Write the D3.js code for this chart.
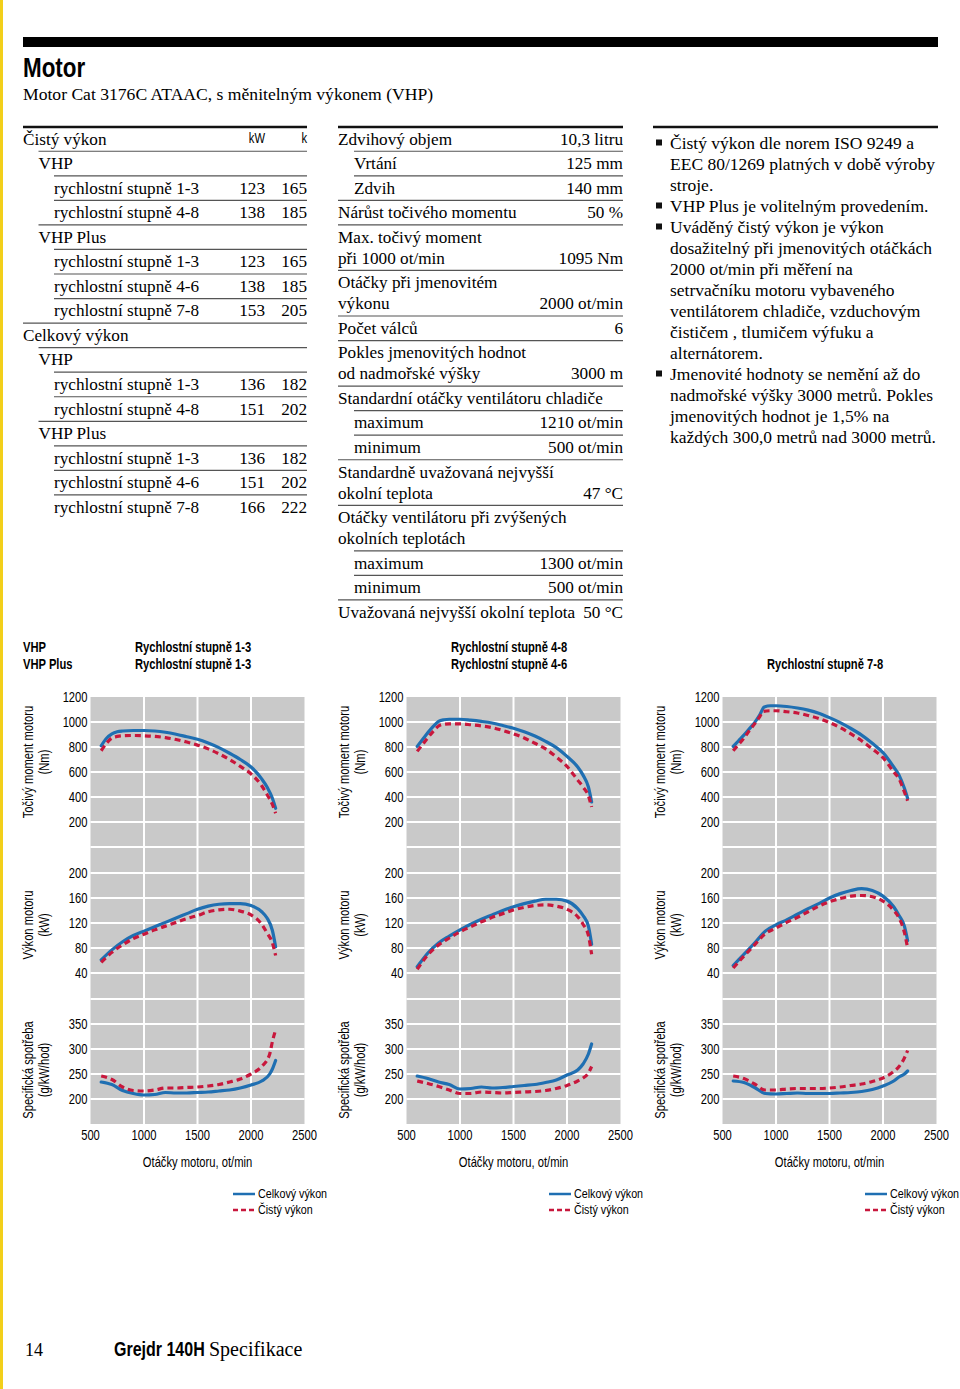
<!DOCTYPE html>
<html>
<head>
<meta charset="utf-8">
<script src="https://cdn.jsdelivr.net/npm/d3@7"></script>
<style>
  html, body { margin: 0; padding: 0; background: #fff; }
  svg { display: block; }
</style>
</head>
<body>
<svg id="page" width="960" height="1389"></svg>
<script>
// --- data ---
const rpmTicks = [500, 1000, 1500, 2000, 2500];
const torqueTicks = [200, 400, 600, 800, 1000, 1200];
const powerTicks = [40, 80, 120, 160, 200];
const fuelTicks = [200, 250, 300, 350];

// sloupec 1: čistý / celkový výkon
const powerRows = [
  { label: "Čistý výkon", level: 0, kw: "", hp: "" },
  { label: "VHP", level: 1, kw: "", hp: "" },
  { label: "rychlostní stupně 1-3", level: 2, kw: "123", hp: "165" },
  { label: "rychlostní stupně 4-8", level: 2, kw: "138", hp: "185" },
  { label: "VHP Plus", level: 1, kw: "", hp: "" },
  { label: "rychlostní stupně 1-3", level: 2, kw: "123", hp: "165" },
  { label: "rychlostní stupně 4-6", level: 2, kw: "138", hp: "185" },
  { label: "rychlostní stupně 7-8", level: 2, kw: "153", hp: "205" },
  { label: "Celkový výkon", level: 0, kw: "", hp: "" },
  { label: "VHP", level: 1, kw: "", hp: "" },
  { label: "rychlostní stupně 1-3", level: 2, kw: "136", hp: "182" },
  { label: "rychlostní stupně 4-8", level: 2, kw: "151", hp: "202" },
  { label: "VHP Plus", level: 1, kw: "", hp: "" },
  { label: "rychlostní stupně 1-3", level: 2, kw: "136", hp: "182" },
  { label: "rychlostní stupně 4-6", level: 2, kw: "151", hp: "202" },
  { label: "rychlostní stupně 7-8", level: 2, kw: "166", hp: "222" }
];

// sloupec 2: parametry motoru
const specRows = [
  { lines: ["Zdvihový objem"], level: 0, value: "10,3 litru" },
  { lines: ["Vrtání"], level: 1, value: "125 mm" },
  { lines: ["Zdvih"], level: 1, value: "140 mm" },
  { lines: ["Nárůst točivého momentu"], level: 0, value: "50 %" },
  { lines: ["Max. točivý moment", "při 1000 ot/min"], level: 0, value: "1095 Nm" },
  { lines: ["Otáčky při jmenovitém", "výkonu"], level: 0, value: "2000 ot/min" },
  { lines: ["Počet válců"], level: 0, value: "6" },
  { lines: ["Pokles jmenovitých hodnot", "od nadmořské výšky"], level: 0, value: "3000 m" },
  { lines: ["Standardní otáčky ventilátoru chladiče"], level: 0, value: "" },
  { lines: ["maximum"], level: 1, value: "1210 ot/min" },
  { lines: ["minimum"], level: 1, value: "500 ot/min" },
  { lines: ["Standardně uvažovaná nejvyšší", "okolní teplota"], level: 0, value: "47 °C" },
  { lines: ["Otáčky ventilátoru při zvýšených", "okolních teplotách"], level: 0, value: "" },
  { lines: ["maximum"], level: 1, value: "1300 ot/min" },
  { lines: ["minimum"], level: 1, value: "500 ot/min" },
  { lines: ["Uvažovaná nejvyšší okolní teplota"], level: 0, value: "50 °C" }
];

// sloupec 3: poznámky
const notes = [
  ["Čistý výkon dle norem ISO 9249 a", "EEC 80/1269 platných v době výroby", "stroje."],
  ["VHP Plus je volitelným provedením."],
  ["Uváděný čistý výkon je výkon", "dosažitelný při jmenovitých otáčkách", "2000 ot/min při měření na",
   "setrvačníku motoru vybaveného", "ventilátorem chladiče, vzduchovým", "čističem , tlumičem výfuku a",
   "alternátorem."],
  ["Jmenovité hodnoty se nemění až do", "nadmořské výšky 3000 metrů. Pokles",
   "jmenovitých hodnot je 1,5% na", "každých 300,0 metrů nad 3000 metrů."]
];

// graf 1: VHP / VHP Plus stupně 1-3
const torqueTotal1 = [[600,810],[650,870],[700,905],[750,922],[800,928],[900,932],[1000,932],[1100,928],[1200,918],[1300,902],[1400,882],[1500,862],[1600,832],[1700,795],[1800,750],[1900,700],[2000,640],[2100,545],[2150,480],[2200,390],[2230,310]];
const torqueNet1 = [[600,770],[650,830],[700,872],[750,885],[800,890],[900,892],[1000,890],[1100,885],[1200,875],[1300,860],[1400,840],[1500,815],[1600,785],[1700,745],[1800,700],[1900,645],[2000,585],[2100,490],[2150,420],[2200,340],[2230,270]];
const powerTotal1 = [[600,61],[700,77],[800,90],[900,100],[1000,107],[1100,114],[1200,121],[1300,128],[1400,135],[1500,142],[1600,147],[1700,150],[1800,151],[1900,151],[2000,148],[2100,138],[2150,128],[2200,108],[2230,82]];
const powerNet1 = [[600,57],[700,73],[800,85],[900,95],[1000,102],[1100,109],[1200,115],[1300,121],[1400,127],[1500,132],[1600,138],[1700,141],[1800,142],[1900,139],[2000,133],[2100,118],[2150,104],[2200,88],[2230,68]];
const fuelTotal1 = [[600,234],[700,229],[800,217],[900,211],[1000,208],[1100,209],[1200,213],[1300,212],[1400,212],[1500,213],[1600,214],[1700,216],[1800,218],[1900,222],[2000,228],[2100,236],[2175,250],[2200,260],[2230,277]];
const fuelNet1 = [[600,246],[700,239],[800,224],[900,217],[1000,216],[1100,218],[1200,222],[1300,222],[1400,223],[1500,224],[1600,226],[1700,229],[1800,234],[1900,240],[2000,250],[2100,265],[2175,290],[2200,315],[2230,338]];

// graf 2: VHP 4-8 / VHP Plus 4-6
const torqueTotal2 = [[600,805],[650,860],[700,915],[750,965],[800,1005],[850,1018],[900,1022],[1000,1022],[1100,1015],[1200,1005],[1300,992],[1400,972],[1500,950],[1600,922],[1700,888],[1800,845],[1900,795],[2000,725],[2100,640],[2150,575],[2200,480],[2230,360]];
const torqueNet2 = [[600,765],[650,820],[700,875],[750,925],[800,968],[850,982],[900,985],[1000,985],[1100,978],[1200,968],[1300,955],[1400,932],[1500,905],[1600,872],[1700,830],[1800,785],[1900,720],[2000,645],[2100,535],[2150,480],[2200,410],[2230,320]];
const powerTotal2 = [[600,50],[700,72],[800,88],[900,99],[1000,109],[1100,118],[1200,126],[1300,133],[1400,140],[1500,146],[1600,151],[1700,155],[1800,158],[1900,158],[2000,155],[2100,143],[2150,132],[2200,115],[2230,86]];
const powerNet2 = [[600,46],[700,69],[800,85],[900,96],[1000,106],[1100,114],[1200,122],[1300,129],[1400,135],[1500,141],[1600,145],[1700,148],[1800,149],[1900,147],[2000,142],[2100,130],[2150,118],[2200,100],[2230,70]];
const fuelTotal2 = [[600,246],[700,241],[800,234],[900,229],[1000,220],[1100,221],[1200,224],[1300,222],[1400,223],[1500,225],[1600,227],[1700,229],[1800,233],[1900,238],[2000,248],[2100,258],[2150,270],[2200,290],[2230,310]];
const fuelNet2 = [[600,236],[700,231],[800,225],[900,218],[1000,211],[1100,211],[1200,214],[1300,213],[1400,212],[1500,213],[1600,214],[1700,215],[1800,217],[1900,221],[2000,227],[2100,236],[2150,242],[2200,252],[2230,265]];

// graf 3: VHP Plus 7-8
const torqueTotal3 = [[600,805],[650,850],[700,895],[750,945],[800,995],[850,1060],[890,1120],[950,1130],[1000,1130],[1100,1124],[1200,1112],[1300,1095],[1400,1070],[1500,1035],[1600,995],[1700,948],[1800,895],[1900,830],[2000,755],[2100,640],[2150,575],[2200,470],[2230,390]];
const torqueNet3 = [[600,770],[650,820],[700,870],[750,930],[800,985],[850,1045],[880,1085],[950,1090],[1000,1090],[1100,1082],[1200,1072],[1300,1052],[1400,1028],[1500,995],[1600,955],[1700,905],[1800,850],[1900,785],[2000,715],[2100,600],[2150,545],[2200,440],[2230,370]];
const powerTotal3 = [[600,52],[700,70],[800,88],[900,107],[1000,117],[1100,125],[1200,134],[1300,143],[1400,151],[1500,160],[1600,167],[1700,172],[1800,175],[1900,172],[2000,163],[2100,146],[2150,132],[2200,115],[2230,92]];
const powerNet3 = [[600,48],[700,67],[800,85],[900,103],[1000,112],[1100,121],[1200,129],[1300,138],[1400,147],[1500,154],[1600,159],[1700,163],[1800,164],[1900,162],[2000,155],[2100,140],[2150,128],[2200,105],[2230,80]];
const fuelTotal3 = [[600,236],[700,233],[800,223],[900,211],[1000,210],[1100,211],[1200,212],[1300,211],[1400,211],[1500,211],[1600,212],[1700,213],[1800,215],[1900,219],[2000,226],[2100,236],[2150,244],[2200,250],[2230,256]];
const fuelNet3 = [[600,246],[700,241],[800,230],[900,218],[1000,218],[1100,220],[1200,221],[1300,221],[1400,221],[1500,222],[1600,224],[1700,227],[1800,230],[1900,235],[2000,242],[2100,255],[2150,265],[2200,282],[2230,297]];

const chartHeaders = [
  { left: ["VHP", "VHP Plus"], right: ["Rychlostní stupně 1-3", "Rychlostní stupně 1-3"] },
  { left: [], right: ["Rychlostní stupně 4-8", "Rychlostní stupně 4-6"] },
  { left: [], right: ["", "Rychlostní stupně 7-8"] }
];
const legendLabels = ["Celkový výkon", "Čistý výkon"];

// --- styl ---
const SANS = '"Liberation Sans",Arial,sans-serif';
const SERIF = '"Liberation Serif","DejaVu Serif",serif';
const NARROW = 0.8;           // zúžení pro "condensed" písmo
const BLUE = '#1f6fb2';
const RED = '#c8173c';
const GREY = '#c9c9c9';
const TXT = 17.2;

const svg = d3.select('#page');

// úzký text (bezpatkový) – vodorovné zúžení přes transform
function condText(g, x, y, s, anchor, size, bold, rot) {
  return g.append('text')
    .attr('transform', `translate(${x},${y})${rot ? ' rotate(-90)' : ''} scale(${NARROW},1)`)
    .attr('text-anchor', anchor || 'start')
    .attr('dominant-baseline', 'central')
    .style('font-family', SANS).style('font-size', (size || 13) + 'px')
    .style('font-weight', bold ? 'bold' : 'normal').text(s);
}
function serifText(x, y, s, anchor, size) {
  svg.append('text').attr('x', x).attr('y', y).attr('text-anchor', anchor || 'start')
    .style('font-family', SERIF).style('font-size', (size || TXT) + 'px').text(s);
}

// žlutý okraj + černý pruh
svg.append('rect').attr('x', 0).attr('y', 0).attr('width', 3).attr('height', 1389).attr('fill', '#f2cf1a');
svg.append('rect').attr('x', 23).attr('y', 37).attr('width', 915).attr('height', 10).attr('fill', '#000');

condText(svg, 23, 67, 'Motor', 'start', 28, true);
serifText(23, 100, 'Motor Cat 3176C ATAAC, s měnitelným výkonem (VHP)', 'start', 17.6);

// --- tabulky ---
const rowH = 24.55, lineH = 21, firstY = 139;

function thickTop(x1, x2) {
  svg.append('line').attr('x1', x1).attr('x2', x2).attr('y1', 127).attr('y2', 127)
    .attr('stroke', '#111').attr('stroke-width', 2.5);
}
function rule(x1, x2, y) {
  svg.append('line').attr('x1', x1).attr('x2', x2).attr('y1', y).attr('y2', y)
    .attr('stroke', '#555').attr('stroke-width', 1.2);
}

// sloupec 1
thickTop(23, 307);
powerRows.forEach((r, i) => {
  const cy = firstY + i * rowH;
  const x = 23 + r.level * 15.5;
  if (i > 0) rule(x, 307, cy - 12.3);
  serifText(x, cy + 5.5, r.label);
  if (r.kw) serifText(265, cy + 5.5, r.kw, 'end');
  if (r.hp) serifText(307, cy + 5.5, r.hp, 'end');
});
condText(svg, 265, firstY, 'kW', 'end', 14);
condText(svg, 307, firstY, 'k', 'end', 14);

// sloupec 2
thickTop(338, 623);
let cy2 = firstY;
specRows.forEach((r, i) => {
  const x = 338 + r.level * 16;
  if (i > 0) rule(x, 623, cy2 - 12.3);
  r.lines.forEach((ln, j) => serifText(x, cy2 + 5.5 + j * lineH, ln));
  if (r.value) serifText(623, cy2 + 5.5 + (r.lines.length - 1) * lineH, r.value, 'end');
  cy2 += rowH + (r.lines.length - 1) * lineH;
});

// sloupec 3
thickTop(653, 938);
let ln3 = 0;
notes.forEach(item => {
  const y0 = 143 + ln3 * lineH;
  svg.append('rect').attr('x', 656).attr('y', y0 - 3.5).attr('width', 6).attr('height', 6).attr('fill', '#111');
  item.forEach((s, j) => serifText(670, y0 + 5.5 + j * lineH, s, 'start', 17.5));
  ln3 += item.length;
});

// --- grafy ---
const yT = d3.scaleLinear().domain([0, 1200]).range([847, 697]);
const yP = d3.scaleLinear().domain([0, 240]).range([998, 848]);
const yF = d3.scaleLinear().domain([150, 400]).range([1124, 999]);

const charts = [
  { x0: 90.5, t: [torqueTotal1, torqueNet1], p: [powerTotal1, powerNet1], f: [fuelTotal1, fuelNet1] },
  { x0: 406.5, t: [torqueTotal2, torqueNet2], p: [powerTotal2, powerNet2], f: [fuelTotal2, fuelNet2] },
  { x0: 722.5, t: [torqueTotal3, torqueNet3], p: [powerTotal3, powerNet3], f: [fuelTotal3, fuelNet3] }
];

function axisTitle(g, cx, cy, lines) {
  lines.forEach((s, i) => condText(g, cx + i * 16, cy, s, 'middle', 14, false, true));
}

charts.forEach((c, ci) => {
  const g = svg.append('g');
  const x = d3.scaleLinear().domain([500, 2500]).range([c.x0, c.x0 + 214]);

  g.append('rect').attr('x', x(500)).attr('y', yT(1200))
    .attr('width', x(2500) - x(500)).attr('height', yF(150) - yT(1200)).attr('fill', GREY);

  // mřížka
  const hLines = [].concat(
    [0, 200, 400, 600, 800, 1000].map(v => yT(v)),
    [40, 80, 120, 160, 200].map(v => yP(v)),
    [200, 250, 300, 350, 400].map(v => yF(v))
  );
  g.selectAll('.hg').data(hLines).enter().append('line')
    .attr('x1', x(500)).attr('x2', x(2500)).attr('y1', d => d).attr('y2', d => d)
    .attr('stroke', '#fff').attr('stroke-width', 2);
  g.selectAll('.vg').data([1000, 1500, 2000]).enter().append('line')
    .attr('x1', d => x(d)).attr('x2', d => x(d)).attr('y1', yT(1200)).attr('y2', yF(150))
    .attr('stroke', '#fff').attr('stroke-width', 2);

  // popisky os
  torqueTicks.forEach(v => condText(g, c.x0 - 3, yT(v) + 1, v, 'end', 14));
  powerTicks.forEach(v => condText(g, c.x0 - 3, yP(v) + 1, v, 'end', 14));
  fuelTicks.forEach(v => condText(g, c.x0 - 3, yF(v) + 1, v, 'end', 14));
  rpmTicks.forEach(v => condText(g, x(v), 1136, v, 'middle', 14));
  condText(g, x(1500), 1163, 'Otáčky motoru, ot/min', 'middle', 14);

  axisTitle(g, c.x0 - 61.5, 762, ['Točivý moment motoru', '(Nm)']);
  axisTitle(g, c.x0 - 61.5, 925, ['Výkon motoru', '(kW)']);
  axisTitle(g, c.x0 - 61.5, 1070, ['Specifická spotřeba', '(g/kW/hod)']);

  // křivky
  const sets = [[c.t, yT], [c.p, yP], [c.f, yF]];
  sets.forEach(([pair, y]) => {
    const line = d3.line().x(d => x(d[0])).y(d => y(d[1])).curve(d3.curveMonotoneX);
    g.append('path').datum(pair[0]).attr('d', line)
      .attr('fill', 'none').attr('stroke', BLUE).attr('stroke-width', 3.2).attr('stroke-linecap', 'round');
    g.append('path').datum(pair[1]).attr('d', line)
      .attr('fill', 'none').attr('stroke', RED).attr('stroke-width', 3.2).attr('stroke-dasharray', '6,4');
  });

  // legenda
  const lx = c.x0 + 142.5;
  g.append('line').attr('x1', lx).attr('x2', lx + 22).attr('y1', 1194).attr('y2', 1194)
    .attr('stroke', BLUE).attr('stroke-width', 2.5);
  g.append('line').attr('x1', lx).attr('x2', lx + 22).attr('y1', 1210).attr('y2', 1210)
    .attr('stroke', RED).attr('stroke-width', 2.5).attr('stroke-dasharray', '5,3');
  condText(g, lx + 25, 1194, legendLabels[0], 'start', 13.4);
  condText(g, lx + 25, 1210, legendLabels[1], 'start', 13.4);

  // hlavičky
  const h = chartHeaders[ci];
  h.left.forEach((s, i) => condText(g, 23, 648 + i * 17, s, 'start', 14, true));
  h.right.forEach((s, i) => { if (s) condText(g, c.x0 + 44.5, 648 + i * 17, s, 'start', 14, true); });
});

// zápatí
serifText(25, 1356, '14', 'start', 18);
condText(svg, 114, 1349, 'Grejdr 140H', 'start', 20, true);
serifText(209, 1356, 'Specifikace', 'start', 20);
</script>
</body>
</html>
